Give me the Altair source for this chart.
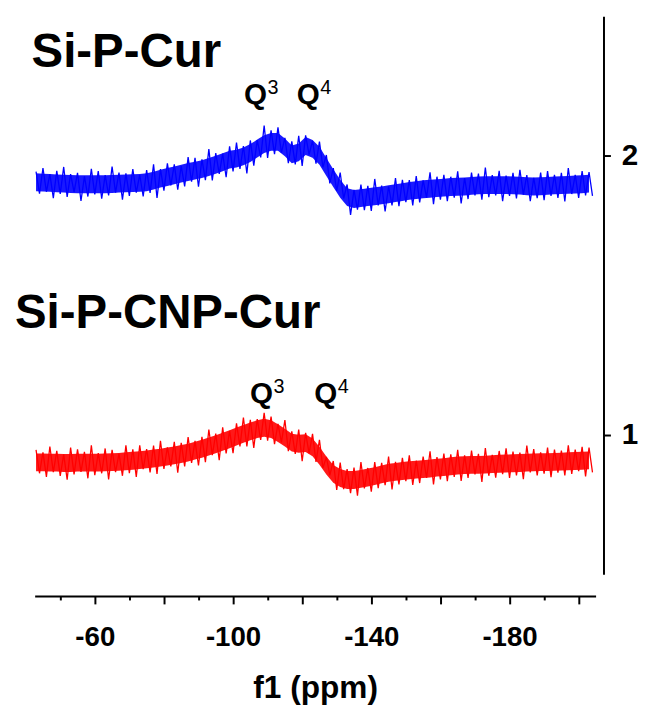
import altair as alt
import pandas as pd

# chemical shift grid (ppm), every 2 ppm from -43 to -203
ppm = list(range(-43, -204, -2))

# Si-P-Cur (blue) local mean intensity
blue_center = [1.905, 1.904, 1.903, 1.901, 1.900, 1.899, 1.898, 1.898, 1.898, 1.898,
               1.898, 1.899, 1.900, 1.901, 1.902, 1.903, 1.905, 1.911, 1.918, 1.924,
               1.930, 1.936, 1.942, 1.947, 1.952, 1.960, 1.968, 1.977, 1.986, 1.990,
               1.998, 2.010, 2.026, 2.042, 2.050, 2.050, 2.030, 2.005, 2.012, 2.035,
               2.025, 2.000, 1.960, 1.920, 1.882, 1.852, 1.845, 1.848, 1.852, 1.855,
               1.858, 1.862, 1.866, 1.870, 1.874, 1.877, 1.880, 1.882, 1.884, 1.886,
               1.888, 1.889, 1.890, 1.892, 1.894, 1.895, 1.895, 1.895, 1.895, 1.894,
               1.893, 1.891, 1.890, 1.891, 1.892, 1.894, 1.895, 1.896, 1.897, 1.898,
               1.900]
# noise excursions above / below (thousandths)
blue_up = [38, 52, 31, 45, 60, 35, 41, 28, 55, 47, 33, 62, 40, 36, 50, 29, 44, 58, 34, 49,
           39, 27, 53, 46, 35, 64, 42, 31, 48, 57, 37, 45, 30, 66, 41, 52, 34, 47, 60, 38,
           29, 51, 43, 36, 58, 45, 33, 49, 40, 62, 35, 28, 54, 44, 39, 50, 32, 59, 41, 46,
           37, 55, 30, 48, 42, 63, 36, 51, 34, 45, 57, 40, 31, 49, 53, 38, 44, 60, 35, 47,
           42]
blue_down = [41, 33, 55, 38, 47, 29, 60, 44, 36, 52, 40, 31, 57, 45, 34, 49, 38, 62, 43, 30,
             51, 46, 35, 58, 39, 48, 33, 54, 42, 37, 61, 45, 32, 50, 44, 39, 56, 36, 48, 31,
             53, 41, 59, 46, 35, 64, 38, 43, 50, 33, 57, 40, 47, 36, 52, 44, 30, 55, 41, 49,
             38, 60, 45, 34, 51, 43, 37, 58, 39, 47, 32, 54, 42, 50, 36, 45, 59, 33, 48, 40,
             44]

# Si-P-CNP-Cur (red)
red_center = [0.901, 0.901, 0.900, 0.900, 0.899, 0.899, 0.900, 0.900, 0.900, 0.900,
              0.901, 0.902, 0.903, 0.905, 0.907, 0.909, 0.912, 0.915, 0.918, 0.922,
              0.926, 0.931, 0.936, 0.943, 0.950, 0.958, 0.966, 0.975, 0.984, 0.994,
              1.003, 1.012, 1.020, 1.025, 1.020, 1.006, 0.990, 0.972, 0.968, 0.970,
              0.955, 0.925, 0.890, 0.860, 0.845, 0.838, 0.838, 0.842, 0.847, 0.852,
              0.858, 0.864, 0.867, 0.870, 0.873, 0.875, 0.877, 0.879, 0.882, 0.884,
              0.887, 0.890, 0.891, 0.892, 0.892, 0.893, 0.895, 0.896, 0.897, 0.898,
              0.899, 0.900, 0.901, 0.902, 0.902, 0.903, 0.904, 0.905, 0.906, 0.907,
              0.908]
red_up = [45, 36, 58, 42, 31, 55, 48, 39, 62, 34, 50, 44, 29, 57, 41, 53, 37, 46, 60, 33,
          49, 40, 56, 35, 43, 61, 38, 52, 30, 47, 59, 42, 36, 54, 45, 33, 63, 40, 51, 37,
          48, 57, 31, 46, 55, 39, 44, 60, 34, 50, 41, 58, 36, 47, 53, 32, 45, 62, 38, 49,
          43, 56, 35, 51, 40, 59, 33, 46, 54, 42, 37, 61, 48, 35, 52, 44, 39, 57, 41, 50,
          46]
red_down = [39, 52, 34, 47, 60, 41, 33, 56, 45, 38, 61, 36, 50, 43, 58, 32, 47, 55, 40, 35,
            62, 44, 37, 53, 48, 31, 57, 42, 50, 36, 45, 59, 38, 46, 54, 33, 49, 41, 63, 37,
            52, 44, 35, 58, 40, 47, 56, 34, 51, 43, 39, 60, 45, 36, 53, 48, 32, 57, 42, 50,
            38, 55, 46, 34, 61, 40, 49, 37, 52, 44, 58, 35, 47, 41, 54, 39, 50, 45, 36, 56,
            43]

# half-width of the dense noise core of each trace
core_half = [0.032, 0.032]

series_names = ["Si-P-Cur", "Si-P-CNP-Cur"]
series_colors = ["#0000FF", "#FF0000"]

# annotations
title_text = ["Si-P-Cur", "Si-P-CNP-Cur"]
title_ppm = [-41.7, -36.9]
title_val = [2.317, 1.384]

q_text = ["Q", "Q", "Q", "Q"]
q_ppm = [-103.2, -118.4, -104.9, -123.5]
q_val = [2.187, 2.187, 1.113, 1.113]
sup_text = ["3", "4", "3", "4"]
sup_ppm = [-110.0, -125.2, -111.7, -130.3]
sup_val = [2.222, 2.222, 1.148, 1.148]

x_ticks = [-50, -60, -70, -80, -90, -100, -110, -120, -130, -140, -150,
           -160, -170, -180, -190, -200]
y_ticks = [1, 2]

# build spectrum tables
rows = []
band = []
for name, c, u, d, h in [(series_names[0], blue_center, blue_up, blue_down, core_half[0]),
                         (series_names[1], red_center, red_up, red_down, core_half[1])]:
    for x, ci, ui, di in zip(ppm, c, u, d):
        rows.append({"series": name, "ppm": x, "v": ci + ui / 1000.0})
        rows.append({"series": name, "ppm": x - 1, "v": ci - di / 1000.0})
        band.append({"series": name, "ppm": x, "hi": ci + h, "lo": ci - h})
spec = pd.DataFrame(rows)
bands = pd.DataFrame(band)

titles = pd.DataFrame({"t": title_text, "ppm": title_ppm, "v": title_val})
qs = pd.DataFrame({"t": q_text, "ppm": q_ppm, "v": q_val})
sups = pd.DataFrame({"t": sup_text, "ppm": sup_ppm, "v": sup_val})

FONT = "Liberation Sans"
xscale = alt.Scale(domain=[-204.9, -42.6], reverse=True, nice=False, zero=False)
yscale = alt.Scale(domain=[0.5, 2.5], nice=False, zero=False)
cscale = alt.Scale(domain=series_names, range=series_colors)

x_axis = alt.Axis(
    orient="bottom", offset=22, values=x_ticks,
    tickSize={"condition": {"test": "abs(datum.value) % 20 == 0", "value": 8}, "value": 4},
    tickWidth=2, tickColor="black", domainWidth=2, domainColor="black",
    labelExpr="abs(datum.value) % 40 == 20 ? '-' + abs(datum.value) : ''",
    labelFont=FONT, labelFontSize=28, labelFontWeight="bold", labelColor="black",
    labelPadding=20, labelFlush=False, labelOverlap=False,
    title="f1 (ppm)", titleFont=FONT, titleFontSize=32, titleFontWeight="bold",
    titleColor="black", titlePadding=22, grid=False,
)
y_axis = alt.Axis(
    orient="right", offset=8, values=y_ticks, format="d",
    tickSize=7, tickWidth=2, tickColor="black", domainWidth=2, domainColor="black",
    labelFont=FONT, labelFontSize=30, labelFontWeight="bold", labelColor="black",
    labelPadding=11, title=None, grid=False,
)

X = alt.X("ppm:Q", scale=xscale, axis=x_axis)
Y = alt.Y("v:Q", scale=yscale, axis=y_axis)

band_layer = alt.Chart(bands).mark_area(opacity=0.9).encode(
    x=X,
    y=alt.Y("lo:Q", scale=yscale, axis=y_axis),
    y2="hi:Q",
    color=alt.Color("series:N", scale=cscale, legend=None),
    detail="series:N",
)

lines = alt.Chart(spec).mark_line(strokeWidth=1.3).encode(
    x=X, y=Y,
    color=alt.Color("series:N", scale=cscale, legend=None),
    detail="series:N",
)

title_layer = alt.Chart(titles).mark_text(
    align="left", baseline="alphabetic", font=FONT, fontSize=48, fontWeight="bold", color="black"
).encode(x=X, y=Y, text="t:N")
q_layer = alt.Chart(qs).mark_text(
    align="left", baseline="alphabetic", font=FONT, fontSize=30, fontWeight="bold", color="black"
).encode(x=X, y=Y, text="t:N")
sup_layer = alt.Chart(sups).mark_text(
    align="left", baseline="alphabetic", font=FONT, fontSize=20, fontWeight="normal", color="black"
).encode(x=X, y=Y, text="t:N")

chart = alt.layer(band_layer, lines, title_layer, q_layer, sup_layer).properties(
    width=568, height=565,
    autosize=alt.AutoSizeParams(type="none"),
    padding={"left": 27, "top": 4, "right": 48, "bottom": 130},
    background="white",
).configure_view(stroke=None)

chart.save("out.html", embed_options={"renderer": "svg", "actions": False})
